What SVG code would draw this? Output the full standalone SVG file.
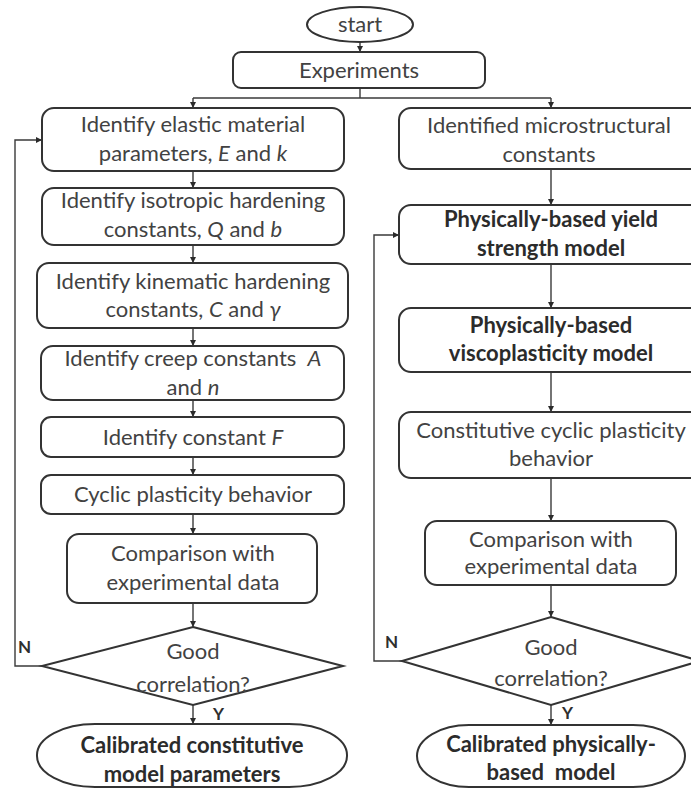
<svg xmlns="http://www.w3.org/2000/svg" width="691" height="789" viewBox="0 0 691 789">
  <defs>
    <marker id="arr" viewBox="0 0 10 10" refX="10" refY="5" markerWidth="6" markerHeight="6" markerUnits="userSpaceOnUse" orient="auto">
      <path d="M0,0 L10,5 L0,10 z" fill="#2b2b2b"/>
    </marker>
    <style>
      .box { fill: #ffffff; stroke: #333333; stroke-width: 2; }
      .link { fill: none; stroke: #3a3a3a; stroke-width: 1.4; }
      .t { font-family: Lato, "Liberation Sans", sans-serif; font-size: 22px; fill: #424242; text-anchor: middle; white-space: pre; }
      .b { font-weight: bold; fill: #2b2b2b; }
      .lbl { font-family: Lato, "Liberation Sans", sans-serif; font-size: 17px; font-weight: bold; fill: #2e2e2e; }
      .v { font-style: italic; }
    </style>
  </defs>
  <rect width="691" height="789" fill="#ffffff"/>

  <!-- connectors -->
  <g id="connectors">
    <line class="link" x1="360" y1="42" x2="360" y2="52" marker-end="url(#arr)"/>
    <polyline class="link" points="360,88 360,98"/>
    <polyline class="link" points="193,98 551,98"/>
    <line class="link" x1="193" y1="98" x2="193" y2="108" marker-end="url(#arr)"/>
    <line class="link" x1="551" y1="98" x2="551" y2="108" marker-end="url(#arr)"/>

    <!-- left column -->
    <line class="link" x1="193" y1="171" x2="193" y2="188" marker-end="url(#arr)"/>
    <line class="link" x1="193" y1="245" x2="193" y2="263" marker-end="url(#arr)"/>
    <line class="link" x1="193" y1="328" x2="193" y2="346" marker-end="url(#arr)"/>
    <line class="link" x1="193" y1="400" x2="193" y2="417" marker-end="url(#arr)"/>
    <line class="link" x1="193" y1="457" x2="193" y2="475" marker-end="url(#arr)"/>
    <line class="link" x1="193" y1="514" x2="193" y2="534" marker-end="url(#arr)"/>
    <line class="link" x1="193" y1="603" x2="193" y2="627" marker-end="url(#arr)"/>
    <line class="link" x1="193" y1="705" x2="193" y2="724" marker-end="url(#arr)"/>
    <polyline class="link" points="42,666 15,666 15,140 42,140" marker-end="url(#arr)"/>

    <!-- right column -->
    <line class="link" x1="551" y1="169" x2="551" y2="205" marker-end="url(#arr)"/>
    <line class="link" x1="551" y1="264" x2="551" y2="308" marker-end="url(#arr)"/>
    <line class="link" x1="551" y1="372" x2="551" y2="412" marker-end="url(#arr)"/>
    <line class="link" x1="551" y1="478" x2="551" y2="521" marker-end="url(#arr)"/>
    <line class="link" x1="551" y1="585" x2="551" y2="617" marker-end="url(#arr)"/>
    <line class="link" x1="551" y1="705" x2="551" y2="725" marker-end="url(#arr)"/>
    <polyline class="link" points="402,661 374,661 374,235 399,235" marker-end="url(#arr)"/>

    <text class="lbl" x="18" y="653">N</text>
    <text class="lbl" x="213" y="720">Y</text>
    <text class="lbl" x="385" y="648">N</text>
    <text class="lbl" x="562" y="719">Y</text>
  </g>

  <!-- top -->
  <g id="start">
    <ellipse class="box" cx="360" cy="24.5" rx="53" ry="17.5"/>
    <text class="t" x="360" y="32">start</text>
  </g>
  <g id="experiments">
    <rect class="box" x="233" y="52" width="252" height="36" rx="8"/>
    <text class="t" x="359" y="78">Experiments</text>
  </g>

  <!-- left column -->
  <g id="elastic">
    <rect class="box" x="42" y="108" width="302" height="63" rx="12"/>
    <text class="t" x="193" y="132">Identify elastic material</text>
    <text class="t" x="193" y="161">parameters, <tspan class="v">E</tspan> and <tspan class="v">k</tspan></text>
  </g>
  <g id="isotropic">
    <rect class="box" x="42" y="188" width="302" height="57" rx="12"/>
    <text class="t" x="193" y="208">Identify isotropic hardening</text>
    <text class="t" x="193" y="237">constants, <tspan class="v">Q</tspan> and <tspan class="v">b</tspan></text>
  </g>
  <g id="kinematic">
    <rect class="box" x="37" y="263" width="311" height="65" rx="12"/>
    <text class="t" x="193" y="289">Identify kinematic hardening</text>
    <text class="t" x="193" y="317">constants, <tspan class="v">C</tspan> and <tspan class="v">γ</tspan></text>
  </g>
  <g id="creep">
    <rect class="box" x="41" y="346" width="303" height="54" rx="12"/>
    <text class="t" x="193" y="366" xml:space="preserve">Identify creep constants  <tspan class="v">A</tspan></text>
    <text class="t" x="193" y="395">and <tspan class="v">n</tspan></text>
  </g>
  <g id="constF">
    <rect class="box" x="41" y="417" width="303" height="40" rx="10"/>
    <text class="t" x="193" y="444.5">Identify constant <tspan class="v">F</tspan></text>
  </g>
  <g id="cyclic">
    <rect class="box" x="41" y="475" width="303" height="39" rx="10"/>
    <text class="t" x="193" y="502">Cyclic plasticity behavior</text>
  </g>
  <g id="compareL">
    <rect class="box" x="67" y="534" width="250" height="69" rx="12"/>
    <text class="t" x="193" y="561">Comparison with</text>
    <text class="t" x="193" y="590">experimental data</text>
  </g>
  <g id="decisionL">
    <polygon class="box" points="193,627 343,666 193,705 42,666"/>
    <text class="t" x="193" y="659">Good</text>
    <text class="t" x="193" y="692">correlation?</text>
  </g>
  <g id="endL">
    <rect class="box" x="37" y="724" width="310" height="63" rx="58" ry="31"/>
    <text class="t b" x="192" y="753">Calibrated constitutive</text>
    <text class="t b" x="192" y="782">model parameters</text>
  </g>

  <!-- right column -->
  <g id="micro">
    <rect class="box" x="399" y="108" width="304" height="61" rx="12"/>
    <text class="t" x="549" y="133">Identified microstructural</text>
    <text class="t" x="549" y="162">constants</text>
  </g>
  <g id="yield">
    <rect class="box" x="399" y="205" width="304" height="59" rx="12"/>
    <text class="t b" x="551" y="227">Physically-based yield</text>
    <text class="t b" x="551" y="256">strength model</text>
  </g>
  <g id="visco">
    <rect class="box" x="399" y="308" width="304" height="64" rx="12"/>
    <text class="t b" x="551" y="333">Physically-based</text>
    <text class="t b" x="551" y="361">viscoplasticity model</text>
  </g>
  <g id="constitutive">
    <rect class="box" x="399" y="412" width="304" height="66" rx="12"/>
    <text class="t" x="551" y="438">Constitutive cyclic plasticity</text>
    <text class="t" x="551" y="466">behavior</text>
  </g>
  <g id="compareR">
    <rect class="box" x="425" y="521" width="251" height="64" rx="12"/>
    <text class="t" x="551" y="547">Comparison with</text>
    <text class="t" x="551" y="574">experimental data</text>
  </g>
  <g id="decisionR">
    <polygon class="box" points="551,617 700,661 551,705 402,661"/>
    <text class="t" x="551" y="655">Good</text>
    <text class="t" x="551" y="686">correlation?</text>
  </g>
  <g id="endR">
    <rect class="box" x="417" y="725" width="268" height="62" rx="52" ry="31"/>
    <text class="t b" x="551" y="752" xml:space="preserve">Calibrated physically-</text>
    <text class="t b" x="551" y="780" xml:space="preserve">based  model</text>
  </g>
</svg>
